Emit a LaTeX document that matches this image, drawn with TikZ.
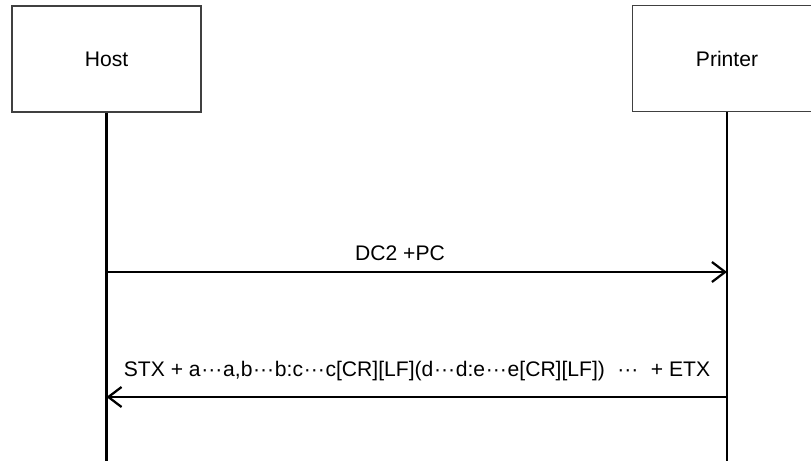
\documentclass[tikz,border=0pt]{standalone}
\usepackage{fontspec}
\setmainfont{Liberation Sans}
\usepackage{tikz}
\usetikzlibrary{positioning, arrows.meta}

\newcommand{\cdt}{\kern0.5pt···\kern0.5pt}

\begin{document}
\begin{tikzpicture}[x=0.025cm, y=-0.025cm,
    lifebox/.style={draw=black!75, line width=1.1pt, fill=white,
                    minimum width=4.725cm, minimum height=2.65cm,
                    font=\fontsize{15}{18}\selectfont},
    lifeline/.style={line width=1.6pt},
    msg/.style={line width=1.6pt, -{Straight Barb[length=0.33cm, width=0.5cm, line width=1.6pt]}},
    msglabel/.style={font=\fontsize{15}{18}\selectfont, inner sep=0pt}]
  \useasboundingbox (0,0) rectangle (811,461);

  % participants
  \node[lifebox] (host) at (106.5,59) {Host};
  \node[lifebox] (printer) at (727,58.5) {Printer};

  % lifelines
  \coordinate (hostend) at (host.south |- 0,461);
  \coordinate (printerend) at (printer.south |- 0,461);
  \draw[lifeline] (host.south) -- (hostend);
  \draw[lifeline] (printer.south) -- (printerend);

  % messages
  \coordinate (h1) at (host.south |- 0,272);
  \coordinate (p1) at (printer.south |- 0,272);
  \coordinate (h2) at (host.south |- 0,397);
  \coordinate (p2) at (printer.south |- 0,397);

  \draw[msg] (h1) -- (p1);
  \node[msglabel, anchor=base] (cmd) at (400,260) {DC2 +PC};

  \draw[msg] (p2) -- (h2);
  \node[msglabel, anchor=base] (reply) at (417,376)
    {STX + a\cdt a,b\cdt b:c\cdt c[CR][LF](d\cdt d:e\cdt e[CR][LF])\ \ \cdt\ \ + ETX};
\end{tikzpicture}
\end{document}
